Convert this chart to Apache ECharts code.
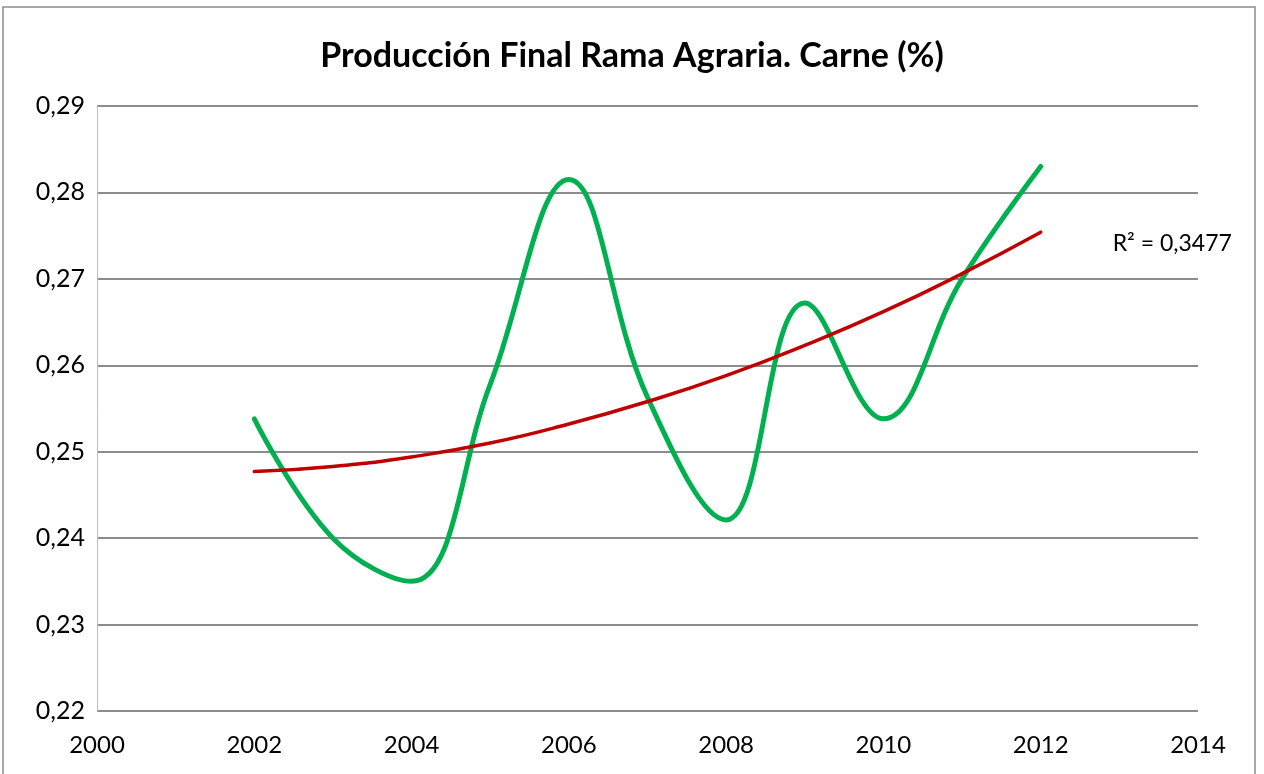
<!DOCTYPE html>
<html>
<head>
<meta charset="utf-8">
<script src="https://cdn.jsdelivr.net/npm/echarts@6/dist/echarts.min.js"></script>
<style>
  html, body { margin: 0; padding: 0; background: #fff; }
  #chart { width: 1264px; height: 774px; }
</style>
</head>
<body>
<div id="chart"></div>
<script>
// datos
const years = [2002, 2003, 2004, 2005, 2006, 2007, 2008, 2009, 2010, 2011, 2012];
const carne = [0.2538, 0.2400, 0.2350, 0.2578, 0.2815, 0.2563, 0.2421, 0.2672, 0.2538, 0.2700, 0.2830];
const tendencia = [0.2477, 0.2483, 0.2494, 0.2510, 0.2532, 0.2558, 0.2588, 0.2623, 0.2662, 0.2706, 0.2754];
const r2Label = "R² = 0,3477";

const chart = echarts.init(document.getElementById("chart"));
chart.setOption({
  animation: false,
  title: {
    text: "Producción Final Rama Agraria. Carne (%)",
    left: "center",
    top: 34,
    textStyle: {
      fontFamily: "Lato",
      fontWeight: "bold",
      fontSize: 34,
      color: "#000",
    },
  },
  graphic: [
    {
      type: "rect",
      shape: { x: 3, y: 7, width: 1252, height: 790 },
      style: { fill: "none", stroke: "#8c8c8c", lineWidth: 1.5 },
      silent: true,
    },
  ],
  grid: { left: 97, right: 66, top: 106, bottom: 63 },
  xAxis: {
    type: "value",
    min: 2000,
    max: 2014,
    interval: 2,
    axisLine: { show: false },
    axisTick: { show: false },
    splitLine: { show: false },
    axisLabel: {
      margin: 22,
      fontSize: 24,
      color: "#000",
      fontFamily: "Lato",
      formatter: (v) => String(v),
    },
  },
  yAxis: {
    type: "value",
    min: 0.22,
    max: 0.29,
    interval: 0.01,
    axisLine: { show: true, lineStyle: { color: "#bfbfbf", width: 1 } },
    axisTick: { show: false },
    splitLine: { show: true, lineStyle: { color: "#8c8c8c", width: 2 } },
    axisLabel: {
      margin: 12,
      fontSize: 25,
      color: "#000",
      fontFamily: "Lato",
      formatter: (v) => v.toFixed(2).replace(".", ","),
    },
  },
  series: [
    {
      name: "Carne",
      type: "line",
      data: years.map((y, i) => [y, carne[i]]),
      smooth: 0.4,
      symbol: "none",
      lineStyle: { color: "#00b050", width: 5, cap: "round" },
      z: 2,
    },
    {
      name: "Tendencia",
      type: "line",
      data: years.map((y, i) => [y, tendencia[i]]),
      smooth: true,
      symbol: "none",
      lineStyle: { color: "#c00000", width: 3.5, cap: "round" },
      z: 3,
      endLabel: {
        show: true,
        formatter: () => r2Label,
        fontSize: 23,
        color: "#000",
        fontFamily: "Lato",
        offset: [64, 11],
      },
    },
  ],
});
</script>
</body>
</html>
